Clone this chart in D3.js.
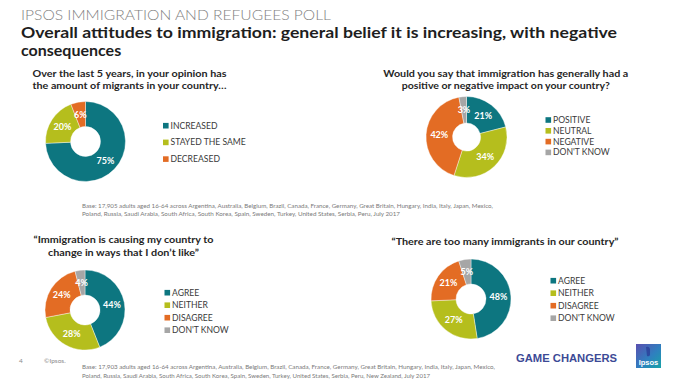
<!DOCTYPE html>
<html>
<head>
<meta charset="utf-8">
<script src="https://cdn.jsdelivr.net/npm/d3@7"></script>
<style>
  html, body { margin: 0; padding: 0; background: #fff; }
  svg { display: block; font-family: Lato, "Open Sans", sans-serif; }
</style>
</head>
<body>
<svg id="chart" width="680" height="383"></svg>
<script>
// ---------- DATA ----------
const q1Categories = ["INCREASED", "STAYED THE SAME", "DECREASED"];
const q1Values = [75, 20, 6];
const q2Categories = ["POSITIVE", "NEUTRAL", "NEGATIVE", "DON'T KNOW"];
const q2Values = [21, 34, 42, 3];
const q3Categories = ["AGREE", "NEITHER", "DISAGREE", "DON'T KNOW"];
const q3Values = [44, 28, 24, 4];
const q4Categories = ["AGREE", "NEITHER", "DISAGREE", "DON'T KNOW"];
const q4Values = [48, 27, 21, 5];

const q1Title = ["Over the last 5 years, in your opinion has", "the amount of migrants in your country…"];
const q2Title = ["Would you say that immigration has generally had a", "positive or negative impact on your country?"];
const q3Title = ["“Immigration is causing my country to", "change in ways that I don’t like”"];
const q4Title = ["“There are too many immigrants in our country”"];

const baseText1 = ["Base: 17,905 adults aged 16-64 across  Argentina,  Australia,  Belgium,  Brazil,  Canada,  France,  Germany,  Great Britain,  Hungary,  India,  Italy,  Japan,  Mexico,",
                   "Poland,  Russia,  Saudi Arabia,  South Africa,  South Korea,  Spain,  Sweden,   Turkey,  United States,  Serbia,  Peru,  July 2017"];
const baseText2 = ["Base: 17,903 adults aged 16-64 across  Argentina,  Australia,  Belgium,  Brazil,  Canada,  France,  Germany,  Great Britain,  Hungary,  India,  Italy,  Japan,  Mexico,",
                   "Poland,  Russia,  Saudi Arabia,  South Africa,  South Korea,  Spain,  Sweden,   Turkey,  United States,  Serbia,  Peru,  New Zealand,   July 2017"];

const palette = ["#0d7680", "#b5be1d", "#e36c24", "#a6a6a6"];

// ---------- DRAW ----------
const svg = d3.select("#chart");

svg.append("text").attr("x", 21).attr("y", 20)
  .attr("font-size", 13.5).attr("font-weight", 300).attr("fill", "#7f7f7f")
  .attr("textLength", 310).attr("lengthAdjust", "spacingAndGlyphs")
  .text("IPSOS IMMIGRATION AND REFUGEES POLL");

svg.append("text").attr("x", 21).attr("y", 37.5)
  .attr("font-size", 16).attr("font-weight", 700).attr("fill", "#1e1e1e")
  .attr("textLength", 596).attr("lengthAdjust", "spacingAndGlyphs")
  .text("Overall attitudes to immigration: general belief it is increasing, with negative");
svg.append("text").attr("x", 21).attr("y", 55.5)
  .attr("font-size", 16).attr("font-weight", 700).attr("fill", "#1e1e1e")
  .text("consequences");

function drawDonut(cfg) {
  const g = svg.append("g");
  // title
  cfg.title.forEach((line, i) => {
    g.append("text")
      .attr("x", cfg.titleX).attr("y", cfg.titleY + i * 12.3)
      .attr("text-anchor", "middle")
      .attr("font-size", 10).attr("font-weight", 700).attr("fill", "#262626")
      .attr("textLength", cfg.titleW[i]).attr("lengthAdjust", "spacingAndGlyphs")
      .text(line);
  });
  const color = d3.scaleOrdinal().domain(cfg.categories).range(palette);
  const pie = d3.pie().sort(null).value(d => d.v);
  const data = pie(cfg.categories.map((c, i) => ({ c, v: cfg.values[i] })));
  const arc = d3.arc().innerRadius(cfg.r0).outerRadius(cfg.r1);
  const lblArc = d3.arc().innerRadius((cfg.r0 + cfg.r1) / 2).outerRadius((cfg.r0 + cfg.r1) / 2);
  const pg = g.append("g").attr("transform", `translate(${cfg.cx},${cfg.cy})`);
  pg.selectAll("path").data(data).join("path")
    .attr("d", arc).attr("fill", d => color(d.data.c))
    .attr("stroke", "#fff").attr("stroke-width", 0.4);
  pg.selectAll("text").data(data).join("text")
    .attr("transform", d => `translate(${lblArc.centroid(d)})`)
    .attr("text-anchor", "middle").attr("dy", "0.35em")
    .attr("font-size", 9).attr("font-weight", 700).attr("fill", "#fff")
    .text(d => d.data.v + "%");
  // legend
  const lg = g.append("g");
  cfg.categories.forEach((c, i) => {
    const y = cfg.legY + i * cfg.legStep;
    lg.append("rect").attr("x", cfg.legX).attr("y", y - 2.8)
      .attr("width", 5.6).attr("height", 5.6).attr("fill", color(c));
    lg.append("text").attr("x", cfg.legX + 7.5).attr("y", y).attr("dy", "0.35em")
      .attr("font-size", 8.6).attr("fill", "#3a3a3a").text(c);
  });
}

drawDonut({ categories: q1Categories, values: q1Values, cx: 85.5, cy: 141.5, r0: 15, r1: 40,
  title: q1Title, titleX: 129.5, titleY: 77, titleW: [194, 194],
  legX: 163, legY: 125.7, legStep: 16.7 });
drawDonut({ categories: q2Categories, values: q2Values, cx: 466.5, cy: 137, r0: 14, r1: 40.5,
  title: q2Title, titleX: 505.8, titleY: 77, titleW: [245, 208],
  legX: 545.5, legY: 120, legStep: 10.8 });
drawDonut({ categories: q3Categories, values: q3Values, cx: 85, cy: 310, r0: 15, r1: 40,
  title: q3Title, titleX: 123.5, titleY: 243.3, titleW: [180, 151],
  legX: 164.5, legY: 292.7, legStep: 12.5 });
drawDonut({ categories: q4Categories, values: q4Values, cx: 471, cy: 299, r0: 15, r1: 40,
  title: q4Title, titleX: 505, titleY: 245, titleW: [227],
  legX: 550.5, legY: 280.7, legStep: 12.5 });

// base notes
function baseNote(lines, y, widths) {
  lines.forEach((l, i) => {
    svg.append("text").attr("x", 82).attr("y", y + i * 8.6)
      .attr("font-size", 5.2).attr("fill", "#7a7a7a")
      .attr("textLength", widths[i]).attr("lengthAdjust", "spacingAndGlyphs")
      .text(l);
  });
}
baseNote(baseText1, 207.5, [411, 318]);
baseNote(baseText2, 369, [413, 348]);

// footer
svg.append("text").attr("x", 19).attr("y", 363).attr("font-size", 6.5).attr("fill", "#8a8a8a").text("4");
svg.append("text").attr("x", 44).attr("y", 363).attr("font-size", 6.5).attr("fill", "#8a8a8a").text("©Ipsos.");
svg.append("text").attr("x", 516).attr("y", 361.5).attr("font-size", 11.5).attr("font-weight", 700)
  .attr("fill", "#3c4a96").attr("font-family", "Liberation Sans, Arial, sans-serif")
  .attr("textLength", 101).attr("lengthAdjust", "spacingAndGlyphs").text("GAME CHANGERS");

const defs = svg.append("defs");
const grad = defs.append("linearGradient").attr("id", "lg").attr("x1", "0").attr("y1", "0").attr("x2", "1").attr("y2", "1");
grad.append("stop").attr("offset", "0").attr("stop-color", "#5a4fb0");
grad.append("stop").attr("offset", "0.55").attr("stop-color", "#2f7fbf");
grad.append("stop").attr("offset", "1").attr("stop-color", "#18a3a8");
svg.append("rect").attr("x", 636).attr("y", 344).attr("width", 25).attr("height", 24).attr("fill", "url(#lg)");
svg.append("path").attr("d", "M646,347 q3,-1 4,2 l0,6 q-1,2 -3,1 z").attr("fill", "#2a3f9a").attr("opacity", 0.8);
svg.append("text").attr("x", 648.5).attr("y", 364.5).attr("text-anchor", "middle")
  .attr("font-size", 7.5).attr("font-weight", 700).attr("fill", "#fff")
  .attr("font-family", "Liberation Sans, Arial, sans-serif").text("Ipsos");
</script>
</body>
</html>
